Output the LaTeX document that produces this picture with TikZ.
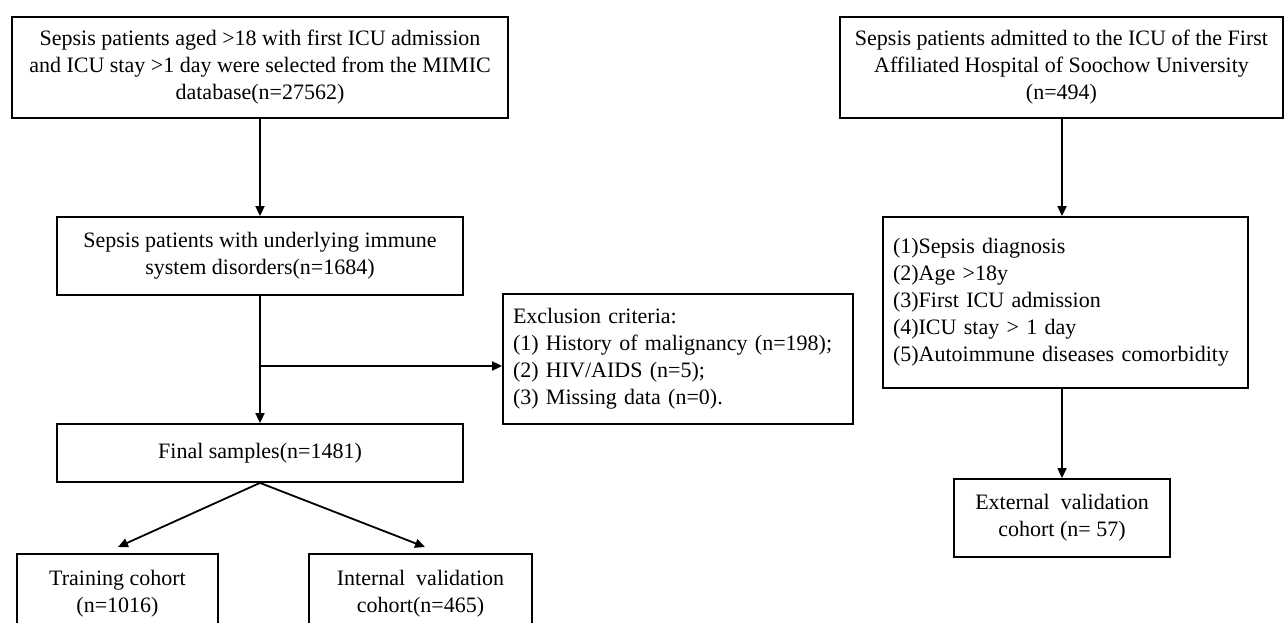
\documentclass[tikz,border=0pt]{standalone}
\usepackage{fontspec}
\setmainfont{Liberation Serif}
\usetikzlibrary{arrows.meta,calc}
\begin{document}
\begin{tikzpicture}[x=1pt,y=-1pt,
  box/.style={draw, line width=1.8pt, inner sep=0pt, align=center, font=\fontsize{22}{27}\selectfont},
  lbox/.style={box, align=left, inner xsep=10pt},
  arr/.style={line width=1.8pt, -{Triangle[length=10pt,width=9pt]}},
  ln/.style={line width=1.8pt}]
\useasboundingbox (0,0) rectangle (1284,623);
\clip (0,0) rectangle (1284,623);
% left column
\node[box, minimum width=496pt, minimum height=101pt] (b1) at (260,67.5)
  {Sepsis patients aged >18 with first ICU admission\\ and ICU stay >1 day were selected from the MIMIC\\ database(n=27562)};
\node[box, minimum width=406pt, minimum height=78pt] (b2) at (260,256)
  {Sepsis patients with underlying immune\\ system disorders(n=1684)};
\node[lbox, text width=330pt, minimum height=130pt] (ex) at (678,359)
  {Exclusion criteria:\\ (1) History of malignancy (n=198);\\ (2) HIV/AIDS (n=5);\\ (3) Missing data (n=0).};
\node[box, minimum width=406pt, minimum height=58pt] (fin) at (260,453)
  {Final samples(n=1481)};
\node[box, minimum width=201pt, minimum height=79pt] (tr) at (117.5,593.5)
  {Training cohort\\ (n=1016)};
\node[box, minimum width=223pt, minimum height=79pt] (iv) at (420.5,593.5)
  {Internal\ \ validation\\ cohort(n=465)};
\coordinate (br) at (260,366);
\coordinate (tl) at (118,547);
\coordinate (tr2) at (425,547);
\draw[arr] (b1.south) -- (b2.north);
\draw[arr] (b2.south) -- (fin.north);
\draw[arr] (br) -- (br -| ex.west);
\draw[arr] (fin.south) -- (tl);
\draw[arr] (fin.south) -- (tr2);
% right column
\node[box, minimum width=443pt, minimum height=101pt] (r1) at (1061.5,67.5)
  {Sepsis patients admitted to the ICU of the First\\ Affiliated Hospital of Soochow University\\ (n=494)};
\node[lbox, text width=345pt, minimum height=171pt] (cr) at (1065.5,302.5)
  {(1)Sepsis diagnosis\\ (2)Age >18y\\ (3)First ICU admission\\ (4)ICU stay > 1 day\\ (5)Autoimmune diseases comorbidity};
\node[box, minimum width=216pt, minimum height=78pt] (ev) at (1062,518)
  {External\ \ validation\\ cohort (n= 57)};
\draw[arr] (r1.south -| cr.north) ++(-3.5,0) -- ($(cr.north)+(-3.5,0)$);
\draw[arr] ($(cr.south)+(-3.5,0)$) -- (ev.north);
\end{tikzpicture}
\end{document}
